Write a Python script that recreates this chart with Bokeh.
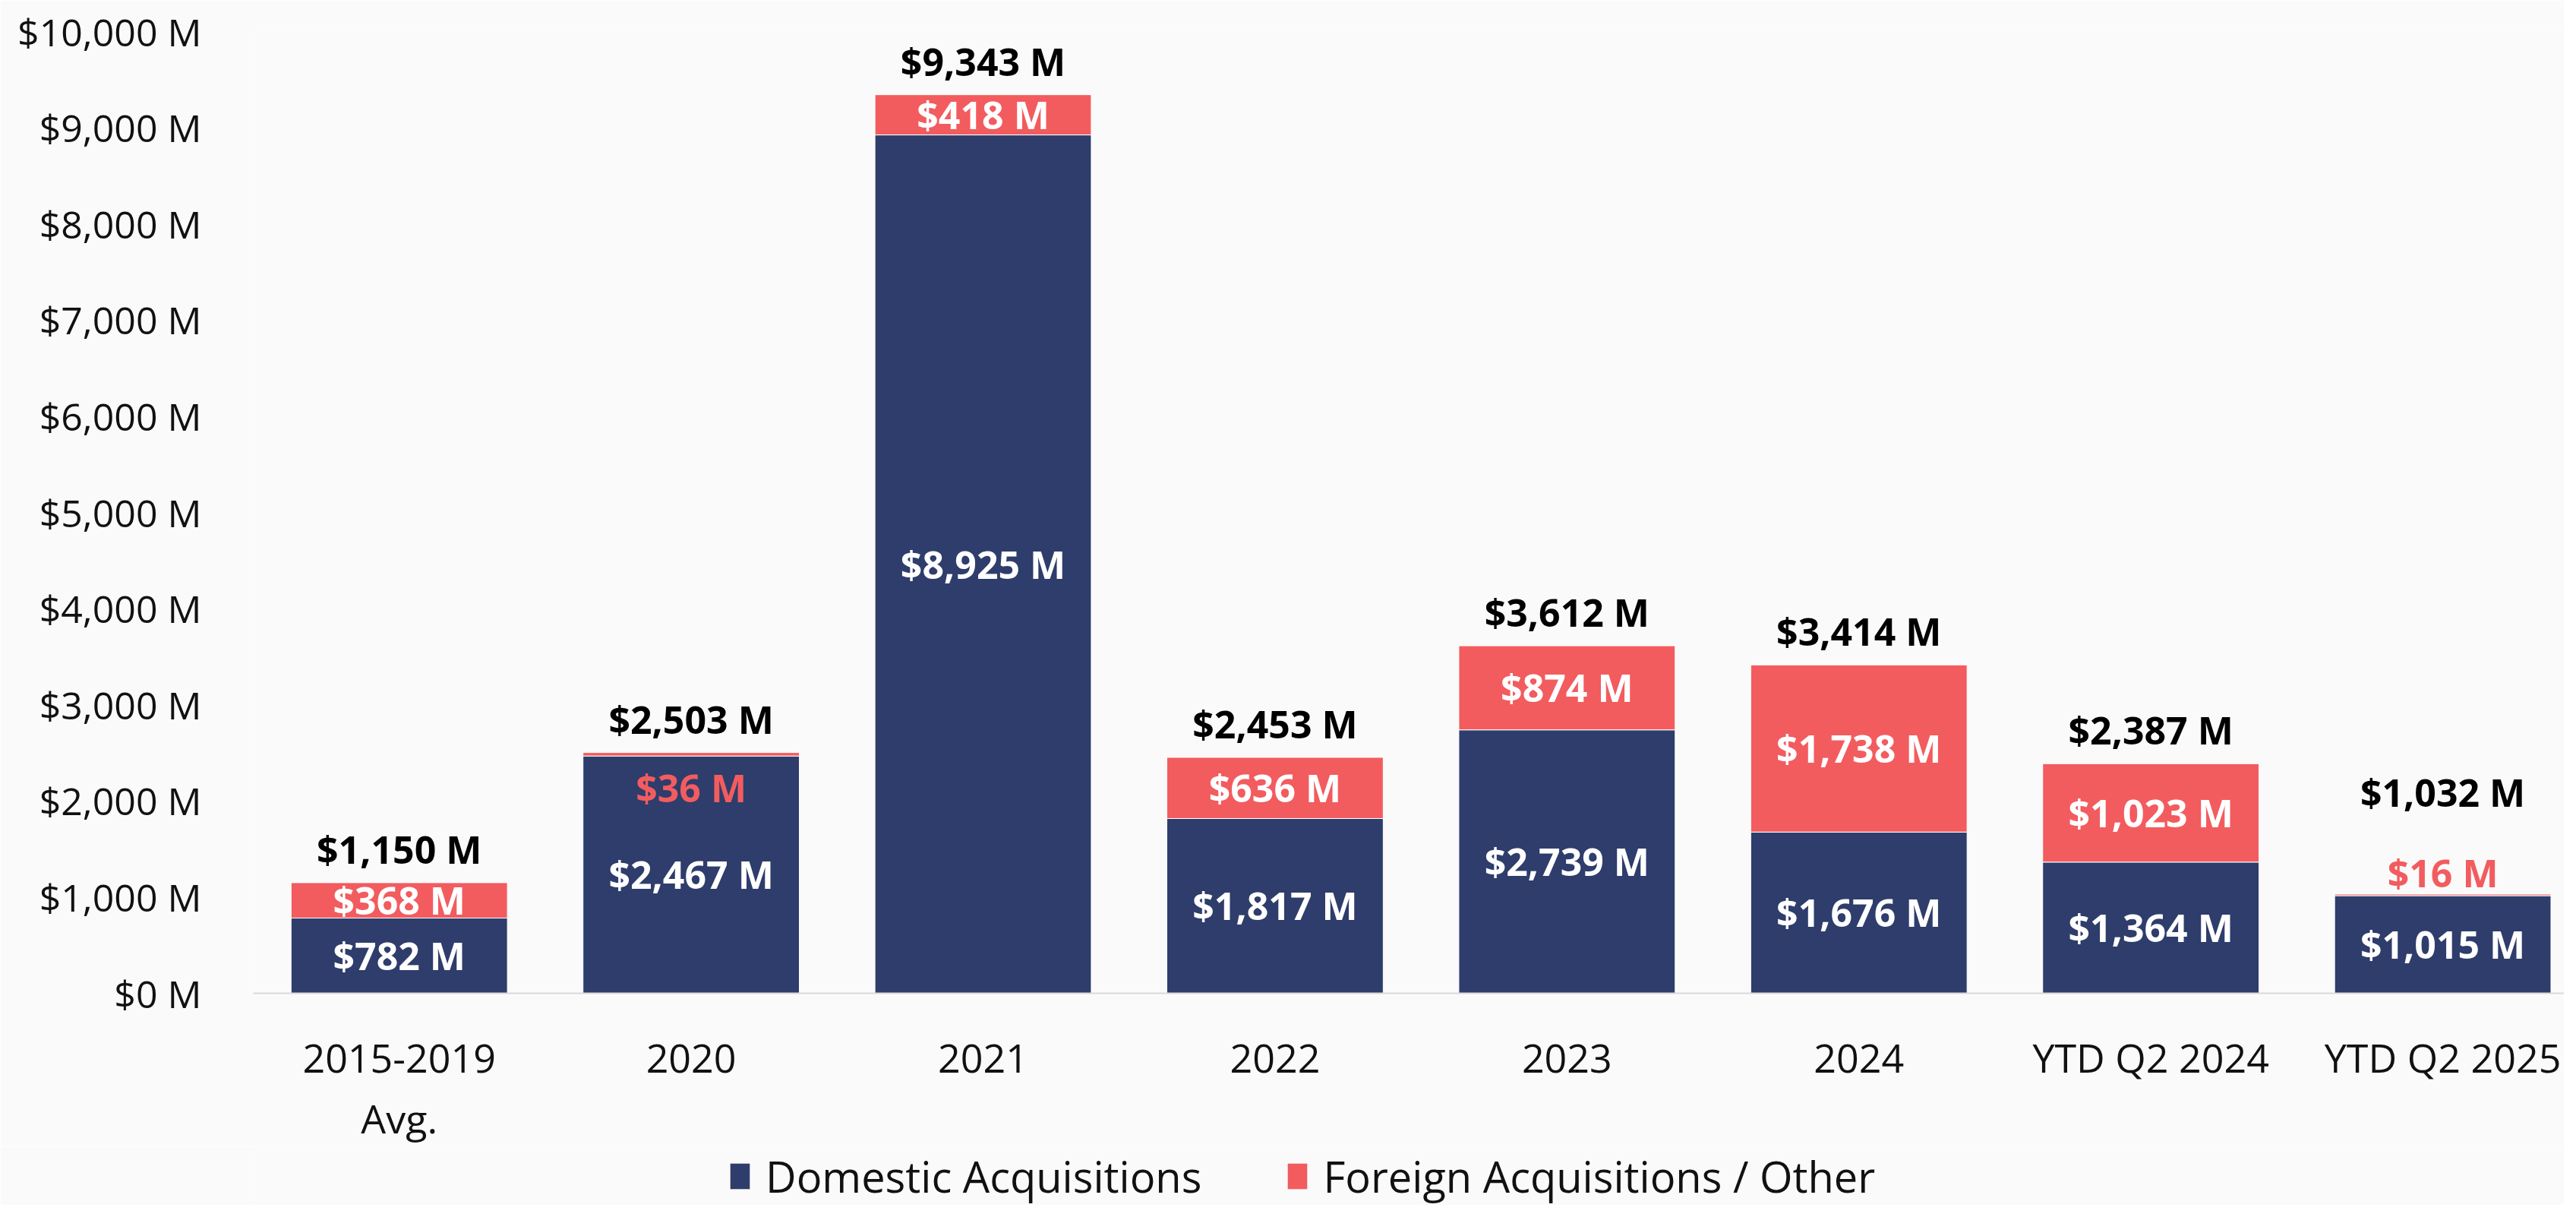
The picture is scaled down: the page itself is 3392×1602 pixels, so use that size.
from bokeh.plotting import figure
from bokeh.layouts import column
from bokeh.models import ColumnDataSource, Range1d, FixedTicker, LabelSet, Legend, LegendItem
from bokeh.core.properties import value
from bokeh.embed import file_html
from bokeh.resources import INLINE

# ---- data ----
categories = ["2015-2019\nAvg.", "2020", "2021", "2022", "2023", "2024", "YTD Q2 2024", "YTD Q2 2025"]
domestic = [782, 2467, 8925, 1817, 2739, 1676, 1364, 1015]
foreign = [368, 36, 418, 636, 874, 1738, 1023, 16]
totals = [1150, 2503, 9343, 2453, 3612, 3414, 2387, 1032]
y_ticks = [0, 1000, 2000, 3000, 4000, 5000, 6000, 7000, 8000, 9000, 10000]
series_names = ["Domestic Acquisitions", "Foreign Acquisitions / Other"]

# ---- style ----
NAVY = "#2E3D6B"
RED = "#F25C5F"
BG = "#FAFAFA"
REG_FONT = "Open Sans"
BOLD_FONT = "Open Sans"
# how small segments get labelled: index -> "inside" (under the bar top) or "above"
small_side = {1: "inside", 7: "above"}
# total labels that need extra lift (to clear a label placed above)
total_lift = {7: 134}

def money(v):
    return f"${v:,} M"

xs = list(range(len(categories)))
stack_top = [d + f for d, f in zip(domestic, foreign)]
src = ColumnDataSource(dict(
    x=xs,
    dom=domestic,
    top=stack_top,
    zero=[0] * len(xs),
    dom_mid=[d / 2 for d in domestic],
    dom_txt=[money(d) for d in domestic],
))

X_RANGE = (-0.5, 7.416)

p = figure(width=3376, height=1509, output_backend="svg", toolbar_location=None,
           x_range=Range1d(*X_RANGE), y_range=Range1d(0, 10000),
           min_border_left=333, min_border_right=0, min_border_top=41, min_border_bottom=200)
p.background_fill_color = BG
p.border_fill_color = BG
p.outline_line_color = None
p.xgrid.visible = False
p.ygrid.visible = False

bar_kw = dict(x="x", width=0.741, source=src, line_color="white", line_width=1)
r_dom = p.vbar(bottom="zero", top="dom", fill_color=NAVY, **bar_kw)
r_for = p.vbar(bottom="dom", top="top", fill_color=RED, **bar_kw)

# axes
p.yaxis.ticker = FixedTicker(ticks=y_ticks)
p.yaxis.major_label_overrides = {t: money(t) for t in y_ticks}
p.yaxis.axis_line_color = None
p.yaxis.major_tick_line_color = None
p.yaxis.minor_tick_line_color = None
p.yaxis.major_label_standoff = 62
p.yaxis.major_label_text_font = REG_FONT
p.yaxis.major_label_text_font_size = "50px"
p.yaxis.major_label_text_color = "#111111"

p.xaxis.ticker = FixedTicker(ticks=xs)
p.xaxis.major_label_overrides = {i: c for i, c in zip(xs, categories)}
p.xaxis.axis_line_color = "#D9D9D9"
p.xaxis.axis_line_width = 2
p.xaxis.major_tick_line_color = None
p.xaxis.minor_tick_line_color = None
p.xaxis.major_label_standoff = 42
p.xaxis.major_label_text_font = REG_FONT
p.xaxis.major_label_text_font_size = "52px"
p.xaxis.major_label_text_line_height = 1.13
p.xaxis.major_label_text_color = "#111111"

common = dict(text_align="center", text_baseline="middle", text_font=value(BOLD_FONT),
              text_font_style="bold", text_font_size="50px")

# domestic segment labels
p.add_layout(LabelSet(x="x", y="dom_mid", text="dom_txt", source=src, text_color="white", **common))

# foreign segment labels
big = [i for i in xs if i not in small_side]
fsrc = ColumnDataSource(dict(
    x=[xs[i] for i in big],
    y=[domestic[i] + foreign[i] / 2 for i in big],
    t=[money(foreign[i]) for i in big],
))
p.add_layout(LabelSet(x="x", y="y", text="t", source=fsrc, text_color="white", **common))

for i, side in small_side.items():
    s = ColumnDataSource(dict(x=[xs[i]], y=[stack_top[i]], t=[money(foreign[i])]))
    off = -46 if side == "inside" else 28
    p.add_layout(LabelSet(x="x", y="y", text="t", source=s, text_color=RED, y_offset=off, **common))

# total labels
for i in xs:
    s = ColumnDataSource(dict(x=[xs[i]], y=[stack_top[i]], t=[money(totals[i])]))
    p.add_layout(LabelSet(x="x", y="y", text="t", source=s, text_color="black",
                          y_offset=total_lift.get(i, 44), **common))

# ---- legend strip (separate figure under the chart; its renderers are hidden) ----
lg = figure(width=3376, height=77, output_backend="svg", toolbar_location=None,
            x_range=Range1d(*X_RANGE), y_range=Range1d(0, 10000),
            x_axis_location=None, y_axis_location=None,
            min_border_left=0, min_border_right=0, min_border_top=0, min_border_bottom=0)
lg.background_fill_color = BG
lg.border_fill_color = BG
lg.outline_line_color = None
lg.grid.visible = False
l_dom = lg.vbar(x="x", top="dom", bottom="zero", width=0.5, source=src, fill_color=NAVY,
                line_color=None, visible=False)
l_for = lg.vbar(x="x", top="top", bottom="dom", width=0.5, source=src, fill_color=RED,
                line_color=None, visible=False)

legend = Legend(items=[LegendItem(label=series_names[0], renderers=[l_dom]),
                       LegendItem(label=series_names[1], renderers=[l_for])],
                orientation="horizontal", location=(625, 0))
legend.label_text_font = REG_FONT
legend.label_text_font_size = "56px"
legend.label_text_color = "#111111"
legend.glyph_width = 32
legend.glyph_height = 42
legend.label_standoff = 18
legend.spacing = 110
legend.padding = 0
legend.margin = 0
legend.border_line_color = None
legend.background_fill_alpha = 0
legend.inactive_fill_alpha = 0
lg.add_layout(legend, "center")

html = file_html(column(p, lg, spacing=0), INLINE)
html = html.replace("<body>", '<body style="background:#FAFAFA">', 1)
open("out.html", "w").write(html)
